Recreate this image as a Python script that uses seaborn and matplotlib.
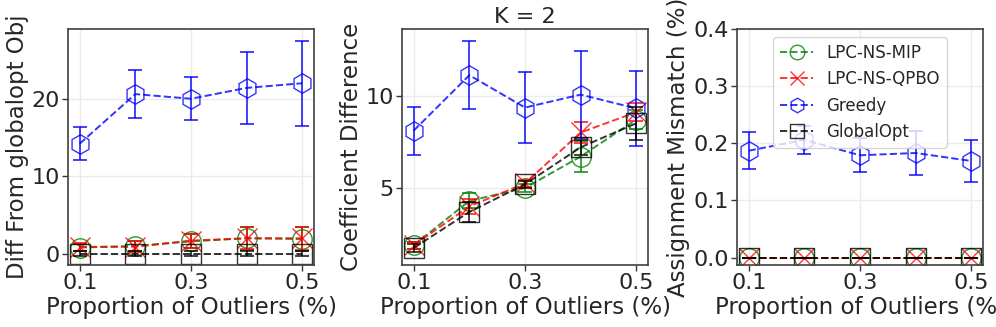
import numpy as np
import pandas as pd
import matplotlib
matplotlib.use("Agg")
import matplotlib.pyplot as plt
import seaborn as sns
from matplotlib.lines import Line2D

sns.set_style("whitegrid")
plt.rcParams['font.family'] = ['DejaVu Sans']

x = [0.1, 0.2, 0.3, 0.4, 0.5]
xticks = [0.1, 0.3, 0.5]
methods = ["LPC-NS-MIP", "LPC-NS-QPBO", "Greedy", "GlobalOpt"]
colors = ["green", "red", "blue", "black"]
markers = ["o", "x", "h", "s"]

# Panel 1: Diff From globalopt Obj
obj_mip = [0.8, 1.0, 1.6, 2.0, 1.9]
obj_mip_err = [0.5, 0.7, 0.9, 1.5, 1.5]
obj_qpbo = [0.9, 0.9, 1.7, 2.0, 2.0]
obj_qpbo_err = [0.5, 0.7, 0.9, 1.4, 1.5]
obj_greedy = [14.2, 20.6, 20.0, 21.4, 22.0]
obj_greedy_err = [2.1, 3.05, 2.8, 4.65, 5.5]
obj_glob = [0.0, 0.0, 0.0, 0.0, 0.0]
obj_glob_err = [0.3, 0.3, 0.3, 0.3, 0.3]

# Panel 2: Coefficient Difference
coef_mip = [1.9, 4.3, 5.0, 6.7, 8.7]
coef_mip_err = [0.2, 0.4, 0.2, 0.85, 0.5]
coef_qpbo = [1.9, 4.0, 5.25, 8.0, 9.1]
coef_qpbo_err = [0.2, 0.4, 0.2, 0.55, 0.5]
coef_greedy = [8.1, 11.1, 9.35, 10.05, 9.3]
coef_greedy_err = [1.3, 1.85, 1.9, 2.35, 2.05]
coef_glob = [1.75, 3.7, 5.2, 7.2, 8.5]
coef_glob_err = [0.2, 0.55, 0.2, 0.4, 0.9]

# Panel 3: Assignment Mismatch
asg_mip = [0.0, 0.0, 0.0, 0.0, 0.0]
asg_mip_err = [0.0, 0.0, 0.0, 0.0, 0.0]
asg_qpbo = [0.0, 0.0, 0.0, 0.0, 0.0]
asg_qpbo_err = [0.0, 0.0, 0.0, 0.0, 0.0]
asg_greedy = [0.187, 0.206, 0.179, 0.183, 0.169]
asg_greedy_err = [0.032, 0.025, 0.03, 0.039, 0.036]
asg_glob = [0.0, 0.0, 0.0, 0.0, 0.0]
asg_glob_err = [0.0, 0.0, 0.0, 0.0, 0.0]

panels = [
    ("Diff From globalopt Obj", None, (-1.45, 29.0), [0, 10, 20],
     [(obj_mip, obj_mip_err), (obj_qpbo, obj_qpbo_err), (obj_greedy, obj_greedy_err), (obj_glob, obj_glob_err)]),
    ("Coefficient Difference", "K = 2", (0.83, 13.6), [5, 10],
     [(coef_mip, coef_mip_err), (coef_qpbo, coef_qpbo_err), (coef_greedy, coef_greedy_err), (coef_glob, coef_glob_err)]),
    ("Assignment Mismatch (%)", None, (-0.013, 0.4), [0.0, 0.1, 0.2, 0.3, 0.4],
     [(asg_mip, asg_mip_err), (asg_qpbo, asg_qpbo_err), (asg_greedy, asg_greedy_err), (asg_glob, asg_glob_err)]),
]

fig = plt.figure(figsize=(9.96, 3.27), dpi=100)
lefts = [68 / 996, 402 / 996, 737 / 996]
FS = 16
LFS = 16.5
for i, (ylabel, title, ylim, yticks, series) in enumerate(panels):
    ax = fig.add_axes([lefts[i], 1 - 265 / 327, 246 / 996, 236 / 327])
    for (vals, errs), name, c, m in zip(series, methods, colors, markers):
        df = pd.DataFrame({"x": x, "y": vals})
        sns.lineplot(data=df, x="x", y="y", ax=ax, color=c, marker=m,
                     markersize=14, markerfacecolor="none", markeredgecolor=c,
                     markeredgewidth=1.0, linestyle="--", linewidth=1.4,
                     alpha=0.8, legend=False)
        ax.errorbar(x, vals, yerr=errs, fmt="none", ecolor=c, elinewidth=1.3,
                    capsize=5, capthick=1.3, alpha=0.8)
    ax.set_ylim(*ylim)
    ax.set_xlim(0.079, 0.521)
    ax.set_xticks(xticks)
    ax.set_xticklabels([f"{t:.1f}" for t in xticks])
    ax.set_yticks(yticks)
    if i == 2:
        ax.set_yticklabels([f"{t:.1f}" for t in yticks])
    ax.set_xlabel("Proportion of Outliers (%)", fontsize=LFS, labelpad=2)
    ax.set_ylabel(ylabel, fontsize=LFS, labelpad=2)
    if title:
        ax.set_title(title, fontsize=FS, pad=4)
    ax.tick_params(axis="both", labelsize=FS, length=4, width=1, color="0.2",
                   left=True, bottom=True, pad=2)
    ax.grid(True, color="0.92", linewidth=1)
    for s in ax.spines.values():
        s.set_color("0.25")
        s.set_linewidth(1.2)
    if i == 2:
        handles = [Line2D([0], [0], color=c, marker=m, markersize=14,
                          markerfacecolor="none", markeredgecolor=c,
                          markeredgewidth=1.0, linestyle="--", linewidth=1.4,
                          alpha=0.8, label=n)
                   for n, c, m in zip(methods, colors, markers)]
        ax.legend(handles=handles, loc="upper center", fontsize=12,
                  markerscale=0.75, framealpha=0.8)

fig.savefig("out.png", dpi=100)
